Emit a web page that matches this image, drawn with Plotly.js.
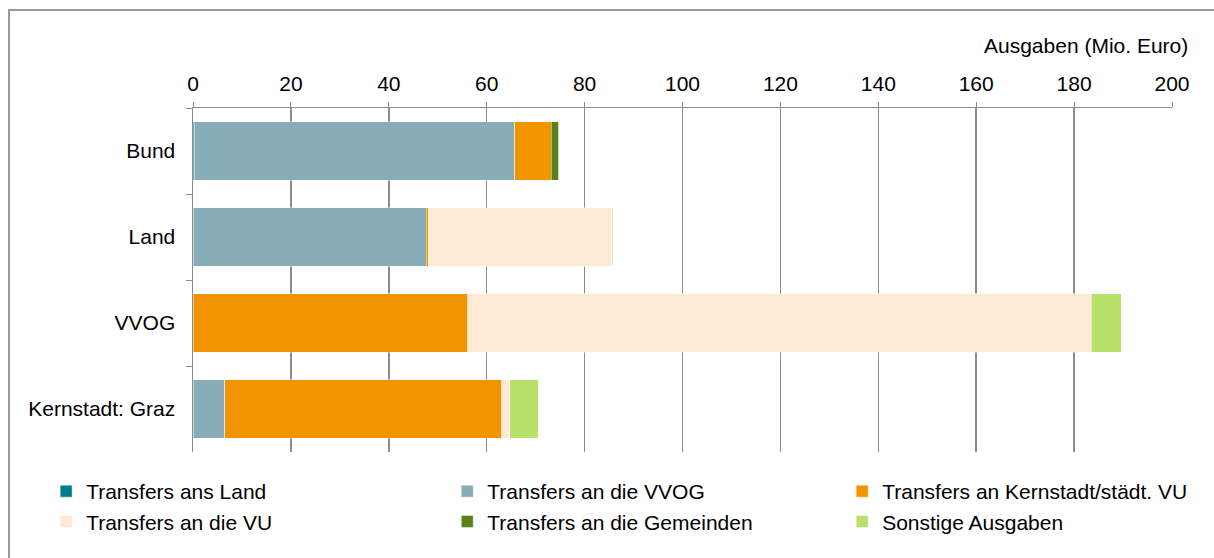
<!DOCTYPE html>
<html>
<head>
<meta charset="utf-8">
<script src="https://cdn.plot.ly/plotly-3.0.1.min.js"></script>
<style>
  body { margin: 0; background: #fff; }
  #wrap { position: relative; width: 1214px; height: 558px; overflow: hidden; }
  #chart { width: 1214px; height: 558px; }
  #frame { position: absolute; left: 8px; top: 9px; width: 1400px; height: 800px;
           border: 2px solid #999; pointer-events: none; }
</style>
</head>
<body>
<div id="wrap">
  <div id="chart"></div>
  <div id="frame"></div>
</div>
<script>
var categories = ['Bund', 'Land', 'VVOG', 'Kernstadt: Graz'];

// Ausgaben in Mio. Euro, je Kategorie
var transfersLand      = [0.3, 0, 0, 0];
var transfersVVOG      = [65.4, 47.7, 0, 6.5];
var transfersKernstadt = [7.5, 0.4, 56.1, 56.6];
var transfersVU        = [0, 37.4, 127.4, 1.6];
var transfersGemeinden = [1.5, 0, 0, 0];
var sonstige           = [0, 0.2, 6.1, 5.8];

var xTicks = [0, 20, 40, 60, 80, 100, 120, 140, 160, 180, 200];

// one legend per column, so the 3x2 grid matches the original
function bar(name, values, color, legendId) {
    return {
        type: 'bar',
        orientation: 'h',
        name: name,
        y: categories,
        x: values,
        legend: legendId,
        marker: {color: color, line: {color: 'rgba(255,255,255,0.45)', width: 1}},
        hoverinfo: 'x+name'
    };
}

var traces = [
    bar('Transfers ans Land', transfersLand, '#007d8c', 'legend'),
    bar('Transfers an die VVOG', transfersVVOG, '#87adb8', 'legend2'),
    bar('Transfers an Kernstadt/städt. VU', transfersKernstadt, '#f29400', 'legend3'),
    bar('Transfers an die VU', transfersVU, '#fde9d4', 'legend'),
    bar('Transfers an die Gemeinden', transfersGemeinden, '#5b8019', 'legend2'),
    bar('Sonstige Ausgaben', sonstige, '#b9e068', 'legend3')
];

function legendCol(x) {
    return {
        orientation: 'v',
        x: x, xanchor: 'left',
        y: -0.0552, yanchor: 'top',
        traceorder: 'normal',
        bgcolor: 'rgba(0,0,0,0)',
        font: {size: 21}
    };
}

var layout = {
    width: 1214,
    height: 558,
    margin: {l: 193, r: 42, t: 108, b: 106},
    barmode: 'stack',
    bargap: 0.325,
    font: {family: '"Liberation Sans", Arial, sans-serif', size: 21, color: '#000'},
    paper_bgcolor: '#fff',
    plot_bgcolor: '#fff',
    xaxis: {
        side: 'top',
        range: [0, 200],
        tickvals: xTicks,
        ticktext: xTicks.map(String),
        showgrid: true,
        gridcolor: '#8c8c8c',
        gridwidth: 1.5,
        showline: true,
        linecolor: '#8c8c8c',
        linewidth: 1.5,
        ticks: 'outside',
        ticklen: 5,
        tickcolor: '#8c8c8c',
        ticklabelstandoff: 2,
        zeroline: false,
        fixedrange: true
    },
    yaxis: {
        autorange: 'reversed',
        showline: true,
        linecolor: '#8c8c8c',
        linewidth: 1.5,
        ticks: 'outside',
        tickson: 'boundaries',
        ticklen: 6,
        tickcolor: '#8c8c8c',
        ticklabelstandoff: 12,
        showgrid: false,
        fixedrange: true
    },
    annotations: [{
        text: 'Ausgaben (Mio. Euro)',
        xref: 'paper', yref: 'paper',
        x: 1.0184, y: 1.183,
        xanchor: 'right', yanchor: 'middle',
        showarrow: false,
        font: {size: 21}
    }],
    showlegend: true,
    legend: legendCol(-0.150),
    legend2: legendCol(0.2597),
    legend3: legendCol(0.6631)
};

Plotly.newPlot('chart', traces, layout, {displayModeBar: false, staticPlot: true});
</script>
</body>
</html>
